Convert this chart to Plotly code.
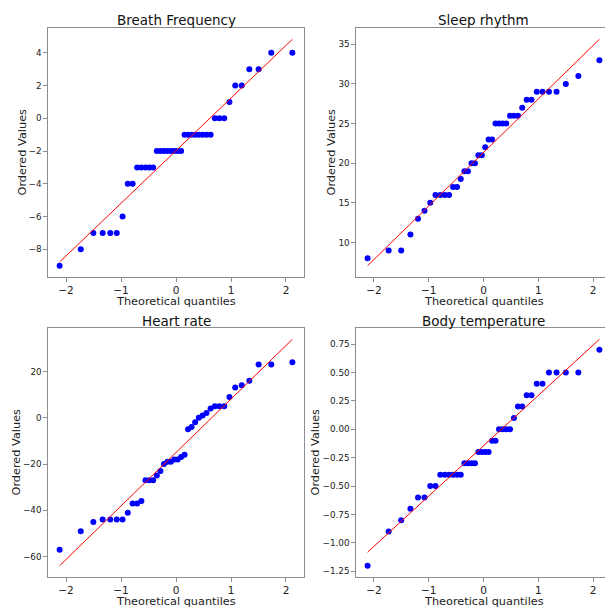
import numpy as np
from statistics import NormalDist
import plotly.graph_objects as go

titles = ["Breath Frequency", "Sleep rhythm", "Heart rate", "Body temperature"]

breath = [-9, -8, -7, -7, -7, -7, -6, -4, -4, -3, -3, -3, -3, -3,
          -2, -2, -2, -2, -2, -2, -2, -2, -1, -1, -1, -1, -1, -1, -1, -1,
          0, 0, 0, 1, 2, 2, 3, 3, 4, 4]
sleep = [8, 9, 9, 11, 13, 14, 15, 16, 16, 16, 16, 17, 17, 18, 19, 19, 20, 20,
         21, 21, 22, 23, 23, 25, 25, 25, 25, 26, 26, 26, 27, 28, 28,
         29, 29, 29, 29, 30, 31, 33]
heart = [-57, -49, -45, -44, -44, -44, -44, -41, -37, -37, -36, -27, -27, -27,
         -25, -23, -20, -19, -19, -18, -18, -17, -16, -5, -4, -2, 0, 1, 2, 4,
         5, 5, 5, 9, 13, 14, 16, 23, 23, 24]
temp = [-1.2, -0.9, -0.8, -0.7, -0.6, -0.6, -0.5, -0.5, -0.4, -0.4, -0.4, -0.4,
        -0.4, -0.4, -0.3, -0.3, -0.3, -0.3, -0.2, -0.2, -0.2, -0.2, -0.1, -0.1,
        0.0, 0.0, 0.0, 0.0, 0.1, 0.2, 0.2, 0.3, 0.3, 0.4, 0.4, 0.5, 0.5, 0.5, 0.5, 0.7]
datasets = [breath, sleep, heart, temp]
ytick_vals = [
    [-8, -6, -4, -2, 0, 2, 4],
    [10, 15, 20, 25, 30, 35],
    [-60, -40, -20, 0, 20],
    [-1.25, -1.0, -0.75, -0.5, -0.25, 0.0, 0.25, 0.5, 0.75],
]
ytick_fmt = ["d", "d", "d", ".2f"]
xtick_vals = [-2, -1, 0, 1, 2]
xlabel = "Theoretical quantiles"
ylabel = "Ordered Values"


def filliben(n):
    m = np.array([(i - 0.3175) / (n + 0.365) for i in range(1, n + 1)])
    m[-1] = 0.5 ** (1.0 / n)
    m[0] = 1 - m[-1]
    nd = NormalDist()
    return np.array([nd.inv_cdf(p) for p in m])


W, H = 605, 608
# panel boxes in pixels: (left, top, right, bottom)
boxes = [(48, 28, 304, 277), (356, 28, 611, 277),
         (48, 328, 304, 577), (356, 328, 611, 577)]
ylabel_x = [22, 331, 16, 315]

fig = go.Figure()
layout = dict(width=W, height=H, margin=dict(l=0, r=0, t=0, b=0),
              plot_bgcolor="white", paper_bgcolor="white", showlegend=False,
              font=dict(family="DejaVu Sans", color="#222"))
annotations = []
axcol = "#8c8c8c"
for k, (vals, title) in enumerate(zip(datasets, titles)):
    y = np.sort(np.array(vals, dtype=float))
    q = filliben(len(y))
    slope, icpt = np.polyfit(q, y, 1)
    fit = slope * q + icpt
    xa = "x" if k == 0 else f"x{k+1}"
    ya = "y" if k == 0 else f"y{k+1}"
    fig.add_trace(go.Scatter(x=q, y=y, mode="markers", xaxis=xa, yaxis=ya,
                             marker=dict(color="#0000ff", size=6)))
    fig.add_trace(go.Scatter(x=[q[0], q[-1]], y=[fit[0], fit[-1]], mode="lines",
                             xaxis=xa, yaxis=ya, line=dict(color="#ff0000", width=1)))
    L, T, R, B = boxes[k]
    xr = [q[0] - 0.05 * (q[-1] - q[0]), q[-1] + 0.05 * (q[-1] - q[0])]
    pxu = (R - L) / (xr[1] - xr[0])
    Rv = min(R, W)
    xr_vis = [xr[0], xr[0] + (Rv - L) / pxu]
    ylo = min(y.min(), fit.min())
    yhi = max(y.max(), fit.max())
    yr = [ylo - 0.05 * (yhi - ylo), yhi + 0.05 * (yhi - ylo)]
    key_x = "xaxis" if k == 0 else f"xaxis{k+1}"
    key_y = "yaxis" if k == 0 else f"yaxis{k+1}"
    layout[key_x] = dict(domain=[L / W, Rv / W], range=xr_vis, anchor=ya,
                         tickvals=xtick_vals, ticks="outside", ticklen=3.5,
                         tickcolor=axcol, showline=True, linecolor=axcol,
                         linewidth=1.3, mirror=True, showgrid=False, zeroline=False,
                         tickfont=dict(size=10.5, color="#222"))
    layout[key_y] = dict(domain=[1 - B / H, 1 - T / H], range=yr, anchor=xa,
                         tickvals=ytick_vals[k], tickformat=ytick_fmt[k],
                         ticks="outside", ticklen=3.5, tickcolor=axcol,
                         showline=True, linecolor=axcol, linewidth=1.3,
                         mirror=(R <= W), showgrid=False, zeroline=False,
                         tickfont=dict(size=8.8, color="#222"))
    cx = (L + R) / 2 / W
    annotations.append(dict(text=title, xref="paper", yref="paper",
                            x=cx, y=1 - (T - 7.5) / H,
                            xanchor="center", yanchor="middle", showarrow=False,
                            font=dict(size=13.5, color="#111")))
    annotations.append(dict(text=xlabel, xref="paper", yref="paper",
                            x=cx, y=1 - (B + 24) / H,
                            xanchor="center", yanchor="middle", showarrow=False,
                            font=dict(size=11.3, color="#222")))
    annotations.append(dict(text=ylabel, xref="paper", yref="paper",
                            x=ylabel_x[k] / W, y=1 - (T + B) / 2 / H, textangle=-90,
                            xanchor="center", yanchor="middle", showarrow=False,
                            font=dict(size=11.3, color="#222")))
layout["annotations"] = annotations
fig.update_layout(**layout)
fig.write_html("out.html")
